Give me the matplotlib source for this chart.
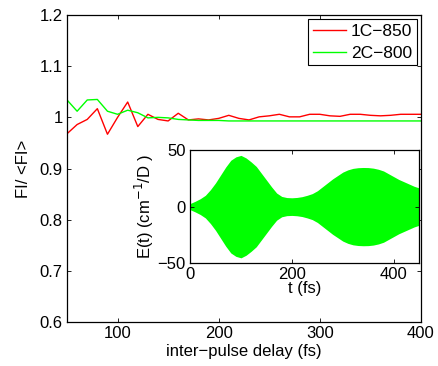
import matplotlib
matplotlib.use("Agg")
import matplotlib.pyplot as plt
import numpy as np

plt.rcParams['font.family'] = ['Liberation Sans', 'DejaVu Sans']
plt.rcParams['font.size'] = 12

# Main chart data (inter-pulse delay in fs)
delay = list(range(50, 401, 10))
fi_1c850 = [0.968, 0.986, 0.996, 1.017, 0.967, 1.000, 1.030, 0.982, 1.006, 0.996,
            0.993, 1.008, 0.995, 0.997, 0.995, 0.998, 1.004, 0.998, 0.995, 1.001,
            1.003, 1.006, 1.001, 1.001, 1.006, 1.006, 1.003, 1.002, 1.006, 1.006,
            1.004, 1.003, 1.004, 1.006, 1.006, 1.006]
fi_2c800 = [1.034, 1.012, 1.034, 1.035, 1.012, 1.006, 1.014, 1.009, 0.999, 1.000,
            0.999, 0.996, 0.995, 0.994, 0.994, 0.994, 0.993, 0.993, 0.993, 0.993,
            0.993, 0.993, 0.993, 0.993, 0.993, 0.993, 0.993, 0.993, 0.993, 0.993,
            0.993, 0.993, 0.993, 0.993, 0.993, 0.993]
series_labels = ['1C\u2212850', '2C\u2212800']

# Inset: field envelope (cm^-1/D) vs time (fs)
t_fs = list(range(0, 451, 10))
env = [2.7, 4.7, 7.0, 10.0, 15.0, 21.0, 28.0, 35.0, 41.0, 44.0,
       45.3, 43.0, 39.5, 35.5, 29.5, 23.5, 17.5, 12.0, 9.0, 8.0,
       7.8, 8.1, 8.8, 10.0, 11.5, 14.0, 17.5, 21.0, 24.5, 27.5,
       30.5, 32.5, 33.8, 34.4, 34.6, 34.5, 34.0, 33.0, 31.5, 29.0,
       26.5, 24.0, 22.0, 20.0, 18.0, 16.5]

fig = plt.figure(figsize=(4.38, 3.66), dpi=100)
ax = fig.add_axes([0.153, 0.120, 0.808, 0.839])
ax.plot(delay, fi_1c850, color='#ff0000', lw=1.0, label=series_labels[0])
ax.plot(delay, fi_2c800, color='#00ff00', lw=1.0, label=series_labels[1])
ax.set_xlim(50, 400)
ax.set_ylim(0.6, 1.2)
ax.set_xticks([100, 200, 300, 400])
ax.set_yticks([0.6, 0.7, 0.8, 0.9, 1.0, 1.1, 1.2])
ax.set_yticklabels(['0.6', '0.7', '0.8', '0.9', '1', '1.1', '1.2'])
ax.tick_params(direction='in', top=True, right=True, length=3, width=0.6, pad=3)
for s in ax.spines.values():
    s.set_linewidth(0.9)
ax.set_xlabel('inter\u2212pulse delay (fs)', labelpad=2)
ax.set_ylabel('FI/ <FI>', labelpad=6)
leg = ax.legend(loc='upper right', frameon=True, fancybox=False, framealpha=1,
                edgecolor='black', borderpad=0.25, handlelength=1.9,
                handletextpad=0.3, labelspacing=0.38, borderaxespad=0.25,
                fontsize=12.5)
leg.get_frame().set_linewidth(0.8)

ins = fig.add_axes([0.434, 0.281, 0.523, 0.309])
te = np.array(t_fs)
ev = np.array(env)
ins.fill_between(te, -ev, ev, color='#00ff00', lw=0)
ins.set_xlim(0, 450)
ins.set_ylim(-50, 50)
ins.set_xticks([0, 200, 400])
ins.set_yticks([-50, 0, 50])
ins.tick_params(direction='in', top=True, right=True, length=3, width=0.6, pad=3)
for s in ins.spines.values():
    s.set_linewidth(0.9)
ins.set_xlabel('t (fs)', labelpad=-1)
ins.set_ylabel('E(t) (cm$^{\u22121}$/D )', labelpad=1)

fig.savefig('out.png', dpi=100)
